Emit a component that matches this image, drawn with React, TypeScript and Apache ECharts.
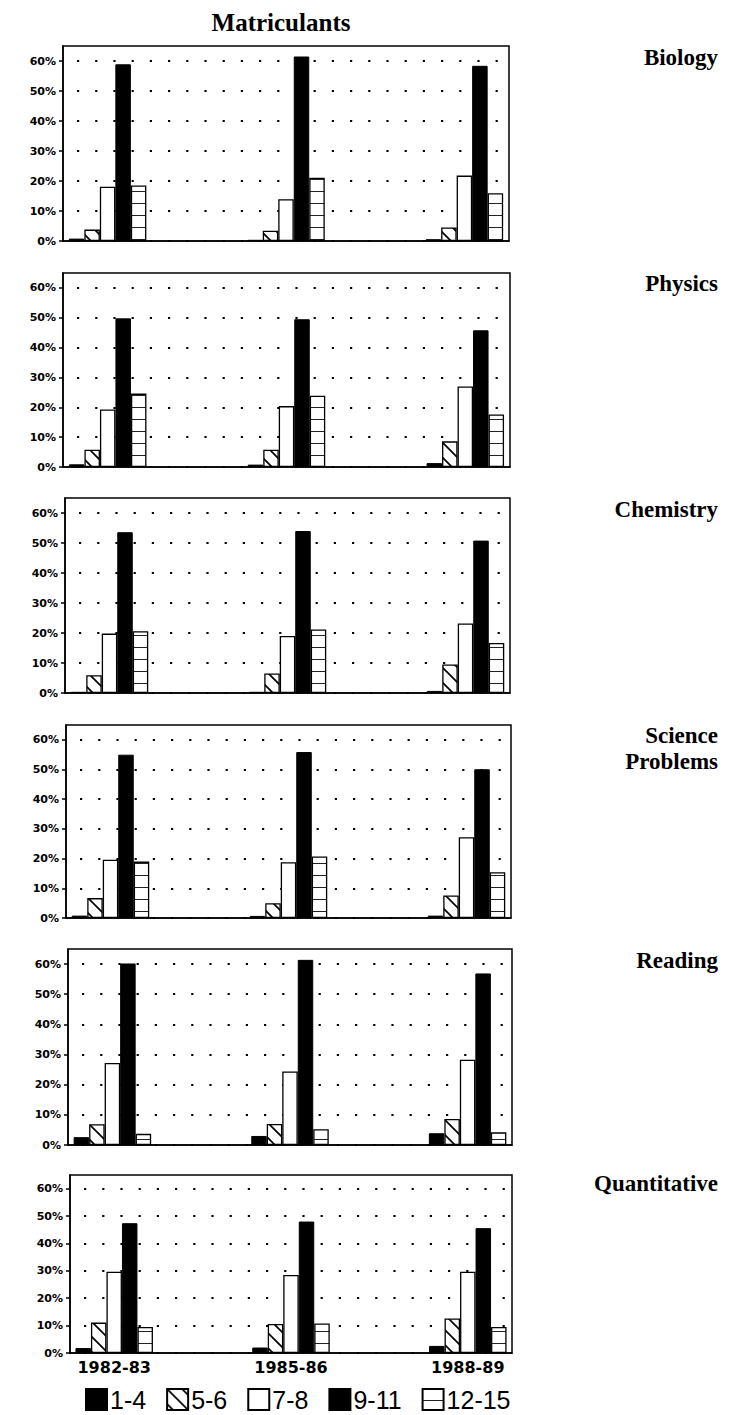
import React, { useEffect, useRef } from "react";
import * as echarts from "echarts";

const years = ["1982-83", "1985-86", "1988-89"];
const bands = ["1-4", "5-6", "7-8", "9-11", "12-15"];
const subjects = ["Biology", "Physics", "Chemistry", "Science\nProblems", "Reading", "Quantitative"];
const yTicks = [0, 10, 20, 30, 40, 50, 60];

// rows: 1-4, 5-6, 7-8, 9-11, 12-15 ; columns: years
const biology = [
  [0.8, 0.4, 0.6],
  [3.8, 3.4, 4.5],
  [18.1, 13.9, 21.8],
  [58.9, 61.5, 58.4],
  [18.5, 21.1, 15.9],
];
const physics = [
  [0.9, 0.8, 1.3],
  [5.8, 5.8, 8.6],
  [19.3, 20.4, 27.0],
  [49.8, 49.5, 45.8],
  [24.6, 23.9, 17.6],
];
const chemistry = [
  [0.4, 0.4, 0.7],
  [5.9, 6.5, 9.5],
  [19.8, 19.0, 23.2],
  [53.6, 54.0, 50.8],
  [20.6, 21.2, 16.7],
];
const scienceProblems = [
  [0.8, 0.7, 0.8],
  [6.7, 5.0, 7.6],
  [19.6, 18.8, 27.2],
  [55.0, 55.9, 50.1],
  [19.0, 20.7, 15.4],
];
const reading = [
  [2.6, 3.0, 3.9],
  [6.9, 7.0, 8.6],
  [27.2, 24.4, 28.3],
  [60.2, 61.4, 56.9],
  [3.7, 5.2, 4.2],
];
const quantitative = [
  [1.8, 2.0, 2.6],
  [11.1, 10.6, 12.6],
  [29.7, 28.5, 29.7],
  [47.4, 48.0, 45.6],
  [9.5, 10.8, 9.5],
];
const panelData = [biology, physics, chemistry, scienceProblems, reading, quantitative];

// layout of each panel's plot frame
const panels = [
  { left: 63, top: 46, width: 446, height: 195, labelY: 57 },
  { left: 63, top: 273, width: 447, height: 194, labelY: 283 },
  { left: 65, top: 498, width: 445, height: 195, labelY: 509 },
  { left: 66, top: 725, width: 445, height: 193, labelY: 748 },
  { left: 68, top: 949, width: 444, height: 196, labelY: 960 },
  { left: 70, top: 1175, width: 442, height: 178, labelY: 1183 },
];

function hatchCanvas() {
  const s = 15;
  const c = document.createElement("canvas");
  c.width = s;
  c.height = s;
  const g = c.getContext("2d")!;
  g.fillStyle = "#fff";
  g.fillRect(0, 0, s, s);
  g.strokeStyle = "#000";
  g.lineWidth = 1.7;
  g.beginPath();
  g.moveTo(-2, -2);
  g.lineTo(s + 2, s + 2);
  g.moveTo(-2, s - 2);
  g.lineTo(2, s + 2);
  g.moveTo(s - 2, -2);
  g.lineTo(s + 2, 2);
  g.stroke();
  return c;
}

function hLineCanvas() {
  const c = document.createElement("canvas");
  c.width = 8;
  c.height = 12;
  const g = c.getContext("2d")!;
  g.fillStyle = "#fff";
  g.fillRect(0, 0, 8, 12);
  g.fillStyle = "#222";
  g.fillRect(0, 11, 8, 1);
  return c;
}

export default function App() {
  const ref = useRef<HTMLDivElement>(null);
  useEffect(() => {
    document.body.style.margin = "0";
    const chart = echarts.init(ref.current!, null, { renderer: "svg" });
    const hatch = hatchCanvas();
    const hline = hLineCanvas();
    const bandStyle: any[] = [
      { color: "#000", borderColor: "#000", borderWidth: 1 },
      { color: { image: hatch, repeat: "repeat" }, borderColor: "#000", borderWidth: 1.3 },
      { color: "#fff", borderColor: "#000", borderWidth: 1.3 },
      { color: "#000", borderColor: "#000", borderWidth: 1 },
      { color: { image: hline, repeat: "repeat" }, borderColor: "#000", borderWidth: 1.3 },
    ];
    const cats = [years[0], " ", years[1], "  ", years[2]];

    const grids: any[] = [];
    const xAxes: any[] = [];
    const yAxes: any[] = [];
    const series: any[] = [];
    const graphics: any[] = [];

    panels.forEach((p, i) => {
      grids.push({
        left: p.left,
        top: p.top,
        width: p.width,
        height: p.height,
        show: true,
        borderColor: "#000",
        borderWidth: 1.5,
        backgroundColor: "transparent",
        containLabel: false,
      });
      const last = i === panels.length - 1;
      xAxes.push({
        type: "category",
        gridIndex: i,
        data: cats,
        axisLine: { show: true, lineStyle: { color: "#000", width: 1.5 } },
        axisTick: { show: false },
        axisLabel: {
          show: last,
          interval: (idx: number) => idx % 2 === 0,
          color: "#000",
          fontFamily: "DejaVu Sans",
          fontWeight: "bold",
          fontSize: 16,
          margin: 6,
        },
        splitLine: { show: false },
      });
      yAxes.push({
        type: "value",
        gridIndex: i,
        min: 0,
        max: 65,
        interval: 10,
        axisLine: { show: true, lineStyle: { color: "#000", width: 1.5 } },
        axisTick: {
          show: true,
          length: 4,
          lineStyle: { color: "#000", width: 1.5 },
          customValues: yTicks,
        },
        axisLabel: {
          color: "#000",
          fontFamily: "DejaVu Sans",
          fontWeight: "bold",
          fontSize: 11,
          margin: 7,
          customValues: yTicks,
          formatter: (v: number) => (v > 60 ? "" : v + "%"),
        },
        splitLine: {
          show: true,
          lineStyle: { color: "#000", width: 2.2, type: [2.2, 16], dashOffset: -14 },
        },
      });
      const d = panelData[i];
      bands.forEach((b, k) => {
        series.push({
          name: b,
          type: "bar",
          xAxisIndex: i,
          yAxisIndex: i,
          barWidth: 15.5,
          barGap: "0%",
          itemStyle: bandStyle[k],
          data: [d[k][0], "-", d[k][1], "-", d[k][2]],
        });
      });
      graphics.push({
        type: "text",
        x: 718,
        y: p.labelY,
        style: {
          text: subjects[i],
          fill: "#000",
          font: "bold 23px 'Liberation Serif', serif",
          textAlign: "right",
          textVerticalAlign: "middle",
          lineHeight: 26,
        },
      });
    });

    chart.setOption({
      animation: false,
      backgroundColor: "#fff",
      title: {
        text: "Matriculants",
        left: 276,
        top: 5,
        textAlign: "center",
        textStyle: {
          fontFamily: "Liberation Serif",
          fontWeight: "bold",
          fontSize: 25,
          color: "#000",
        },
      },
      legend: {
        data: bands,
        left: 80,
        top: 1382,
        icon: "rect",
        itemWidth: 21,
        itemHeight: 21,
        itemGap: 20,
        selectedMode: false,
        textStyle: { fontFamily: "Liberation Sans", fontSize: 25, color: "#000", padding: [0, 0, 0, -2] },
      },
      grid: grids,
      xAxis: xAxes,
      yAxis: yAxes,
      series,
      graphic: graphics,
    });
    return () => chart.dispose();
  }, []);
  return (
    <div
      ref={ref}
      style={{ position: "absolute", left: 0, top: 0, width: 733, height: 1415, background: "#fff" }}
    />
  );
}
